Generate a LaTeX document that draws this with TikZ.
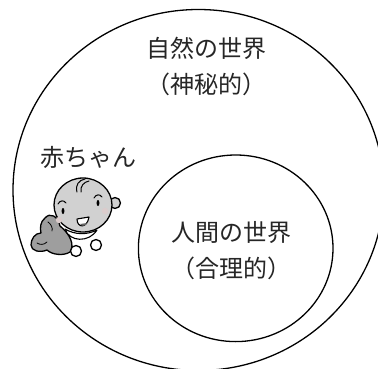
\documentclass[tikz,border=0pt]{standalone}
\usepackage{fontspec}
\newfontfamily\jp{Noto Sans CJK JP}
\begin{document}
\begin{tikzpicture}[x=1pt,y=-1pt,
  world/.style={draw=black, line width=1.3pt},
  label/.style={font=\jp\fontsize{24pt}{36pt}\selectfont, text=black!85, align=center, inner sep=0pt},
  babyline/.style={draw=black, line width=1.3pt, line join=round, line cap=round}]
\useasboundingbox (0,0) rectangle (378,369);
\clip (0,0) rectangle (378,369);
% the two worlds
\draw[world] (198.4,190) ellipse [x radius=185.4, y radius=180.5];
\draw[world] (235.7,248.3) ellipse [x radius=97.3, y radius=93.3];
% labels
\node[label] (nature) at (206.5,66) {自然の世界\\（神秘的）};
\node[label] (human) at (231.5,251) {人間の世界\\（合理的）};
\node[label] (baby) at (89,157.5) {赤ちゃん};
% crawling baby
% body and outstretched leg
\draw[babyline, fill=black!38]
  (60,226) .. controls (58,216) and (50,212) .. (45,218)
  .. controls (40,222) and (40,228) .. (41,233)
  .. controls (35,233) and (31,239) .. (31,245)
  .. controls (31,251) and (40,253) .. (47,250)
  .. controls (52,255) and (64,256) .. (70,252)
  .. controls (75,245) and (70,234) .. (60,226) -- cycle;
\draw[babyline, line width=0.8pt] (37,243) .. controls (40,245) and (44,245) .. (47,242);
\draw[babyline, line width=0.8pt] (48,222) .. controls (51,224) and (53,228) .. (52,231);
% ear behind the head
\draw[babyline, fill=black!18] (115,203) circle [radius=5.5];
% head
\draw[babyline, fill=black!18] (83,205) ellipse [x radius=29, y radius=27];
% hair tuft
\draw[babyline, line width=1pt] (77,192) .. controls (75,185) and (79,180) .. (85,179);
\draw[babyline, line width=1pt] (81,192) .. controls (80,186) and (84,182) .. (89,181);
% eyebrows
\draw[babyline, line width=1pt] (58,204) .. controls (60,200) and (64,200) .. (66,203);
\draw[babyline, line width=1pt] (94,198) .. controls (96,194) and (100,194) .. (102,197);
% eyes
\fill (63,211) ellipse [x radius=1.4, y radius=3];
\fill (98,203) ellipse [x radius=1.4, y radius=3];
% cheeks
\fill[red!30!black!20] (59,220) circle [radius=3.2];
\fill[red!30!black!20] (105,211) circle [radius=3.2];
% open mouth
\draw[babyline, fill=white, line width=1.1pt] (77,219) .. controls (77,228) and (87,229) .. (89,217) -- cycle;
\fill[black!60] (80,224) .. controls (82,227) and (86,226) .. (87,223) -- cycle;
% bib
\draw[babyline, fill=white, line width=1.1pt]
  (65,229) .. controls (69,242) and (89,243) .. (97,230)
  .. controls (87,235) and (75,235) .. (65,229) -- cycle;
% hands
\draw[babyline, fill=white] (76,251) circle [radius=5.5];
\draw[babyline, fill=white] (96,245) circle [radius=5.5];
\end{tikzpicture}
\end{document}
